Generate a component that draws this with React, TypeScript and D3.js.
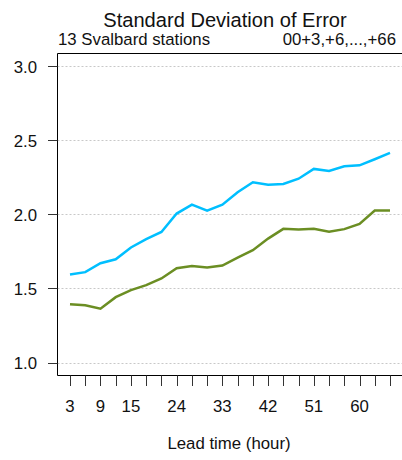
import React from 'react';
import * as d3 from 'd3';

// lead times (hours)
const leadTimes = [3, 6, 9, 12, 15, 18, 21, 24, 27, 30, 33, 36, 39, 42, 45, 48, 51, 54, 57, 60, 63, 66];
// two series
const blueSeries = [1.594, 1.61, 1.67, 1.697, 1.776, 1.832, 1.881, 2.005, 2.065, 2.025, 2.065, 2.149, 2.216, 2.2, 2.205, 2.24, 2.306, 2.292, 2.324, 2.33, 2.371, 2.414];
const greenSeries = [1.394, 1.387, 1.363, 1.441, 1.489, 1.522, 1.567, 1.636, 1.652, 1.641, 1.654, 1.708, 1.758, 1.836, 1.902, 1.897, 1.902, 1.883, 1.9, 1.935, 2.025, 2.025];
const yTicks = [1.0, 1.5, 2.0, 2.5, 3.0];
const xLabels = [3, 9, 15, 24, 33, 42, 51, 60];

const W = 402;
const H = 460;
const font = '"Liberation Sans", Arial, Helvetica, sans-serif';
const fs = 16.8;

export default function App() {
  const left = 57.5;
  const top = 53.5;
  const bottom = 375.5;

  const x = d3.scaleLinear().domain([3, 66]).range([70, 390]);
  const y = d3.scaleLinear().domain([1, 3]).range([362.6, 66]);

  const line = d3
    .line<number>()
    .x((_, i) => x(leadTimes[i]))
    .y((d) => y(d));

  return (
    <svg
      width={W}
      height={H}
      style={{ position: 'absolute', left: 0, top: 0, background: '#fff' }}
      fontFamily={font}
    >
      {/* title */}
      <text x={225} y={27} textAnchor="middle" fontSize={20.1} fill="#111">
        Standard Deviation of Error
      </text>
      <text x={58} y={45} fontSize={fs} fill="#111">
        13 Svalbard stations
      </text>
      <text x={396} y={45} textAnchor="end" fontSize={fs} fill="#111">
        00+3,+6,...,+66
      </text>

      {/* grid */}
      {yTicks.map((t) => (
        <line
          key={'g' + t}
          x1={left}
          x2={W}
          y1={Math.round(y(t)) + 0.5}
          y2={Math.round(y(t)) + 0.5}
          stroke="#c8c8c8"
          strokeWidth={1}
          strokeDasharray="2,2"
        />
      ))}

      {/* series */}
      <path d={line(greenSeries) || ''} fill="none" stroke="#6b8e23" strokeWidth={2.5} />
      <path d={line(blueSeries) || ''} fill="none" stroke="#00bfff" strokeWidth={2.5} />

      {/* box */}
      <path
        d={`M${W + 2},${top} L${left},${top} L${left},${bottom} L${W + 2},${bottom}`}
        fill="none"
        stroke="#000"
        strokeWidth={1}
      />

      {/* y axis */}
      {yTicks.map((t) => (
        <g key={'y' + t}>
          <line
            x1={48}
            x2={left}
            y1={Math.round(y(t)) + 0.5}
            y2={Math.round(y(t)) + 0.5}
            stroke="#333"
            strokeWidth={1}
          />
          <text x={37} y={y(t) + 6.5} textAnchor="end" fontSize={fs} fill="#111">
            {t.toFixed(1)}
          </text>
        </g>
      ))}

      {/* x axis */}
      {leadTimes.map((h) => (
        <line
          key={'x' + h}
          x1={Math.round(x(h)) + 0.5}
          x2={Math.round(x(h)) + 0.5}
          y1={bottom}
          y2={386}
          stroke="#333"
          strokeWidth={1}
        />
      ))}
      {xLabels.map((h) => (
        <text key={'xl' + h} x={x(h)} y={412} textAnchor="middle" fontSize={fs} fill="#111">
          {h}
        </text>
      ))}
      <text x={229} y={449} textAnchor="middle" fontSize={fs} fill="#111">
        Lead time (hour)
      </text>
    </svg>
  );
}
